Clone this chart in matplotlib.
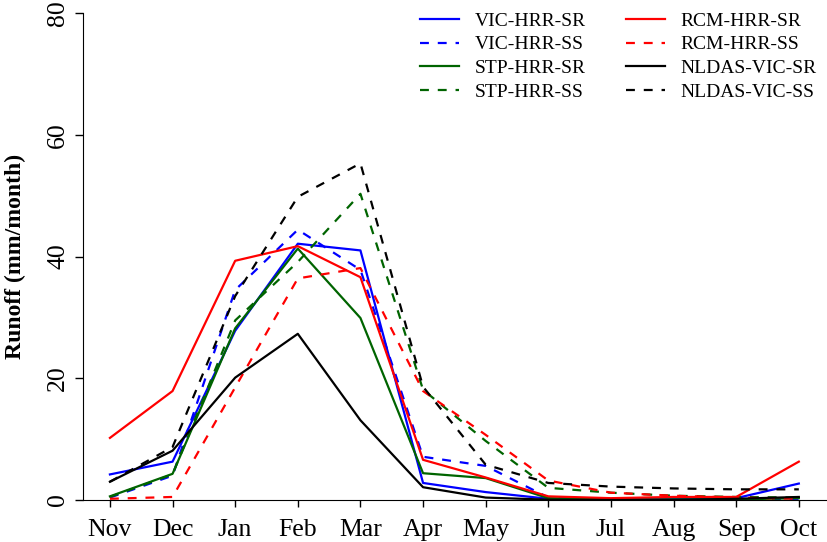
import matplotlib
matplotlib.use("Agg")
from matplotlib import pyplot as plt

plt.rcParams['font.family'] = ['Liberation Serif', 'DejaVu Serif']

months = ['Nov', 'Dec', 'Jan', 'Feb', 'Mar', 'Apr', 'May', 'Jun', 'Jul', 'Aug', 'Sep', 'Oct']

# Monthly runoff (mm/month)
vic_sr = [4.2, 6.3, 27.8, 42.1, 41.0, 2.8, 1.3, 0.2, 0.1, 0.2, 0.3, 2.7]
vic_ss = [0.4, 4.0, 34.5, 44.4, 37.8, 7.1, 5.6, 0.4, 0.2, 0.1, 0.1, 0.2]
stp_sr = [0.6, 4.3, 28.2, 41.3, 29.9, 4.4, 3.6, 0.3, 0.1, 0.1, 0.1, 0.3]
stp_ss = [0.5, 4.2, 29.5, 39.1, 50.3, 18.1, 9.7, 2.0, 1.2, 0.7, 0.5, 0.4]
rcm_sr = [10.2, 17.9, 39.3, 41.7, 36.6, 6.6, 3.7, 0.6, 0.3, 0.5, 0.5, 6.3]
rcm_ss = [0.2, 0.5, 18.5, 36.4, 38.1, 17.9, 10.7, 3.2, 1.2, 0.7, 0.4, 0.2]
nldas_sr = [3.0, 8.1, 20.1, 27.3, 13.1, 2.1, 0.4, 0.05, 0.0, 0.0, 0.2, 0.5]
nldas_ss = [3.0, 8.7, 33.5, 49.8, 55.3, 18.6, 5.8, 2.8, 2.2, 1.9, 1.75, 1.75]

fig = plt.figure(figsize=(8.27, 5.42), dpi=100)
ax = fig.add_axes([83/827, 42/542, 744/827, 487/542])

x = list(range(len(months)))
dash = (0, (4, 4))
lw = 1.6

# column-major order so the legend reads like the reference
ax.plot(x, vic_sr, color='#0000FF', lw=lw, label='VIC-HRR-SR')
ax.plot(x, vic_ss, color='#0000FF', lw=lw, ls=dash, label='VIC-HRR-SS')
ax.plot(x, stp_sr, color='#006400', lw=lw, label='STP-HRR-SR')
ax.plot(x, stp_ss, color='#006400', lw=lw, ls=dash, label='STP-HRR-SS')
ax.plot(x, rcm_sr, color='#FF0000', lw=lw, label='RCM-HRR-SR')
ax.plot(x, rcm_ss, color='#FF0000', lw=lw, ls=dash, label='RCM-HRR-SS')
ax.plot(x, nldas_sr, color='black', lw=lw, label='NLDAS-VIC-SR')
ax.plot(x, nldas_ss, color='black', lw=lw, ls=dash, label='NLDAS-VIC-SS')

ax.set_xlim(-0.43, 11.45)
ax.set_ylim(0, 80)
ax.set_xticks(x)
ax.set_xticklabels(months)
ax.set_yticks([0, 20, 40, 60, 80])
ax.tick_params(axis='x', labelsize=18.5, length=5, width=1, pad=9)
ax.tick_params(axis='y', labelsize=18.5, length=6, width=1, pad=4)
for lab in ax.get_yticklabels():
    lab.set_rotation(90)
    lab.set_va('center')

ax.spines['top'].set_visible(False)
ax.spines['right'].set_visible(False)
ax.set_ylabel('Runoff (mm/month)', fontsize=17, fontweight='bold', labelpad=15)

leg = ax.legend(ncol=2, frameon=False, fontsize=14, loc='upper left',
                bbox_to_anchor=(420/827, 1 - 12/542), bbox_transform=fig.transFigure,
                borderaxespad=0, borderpad=0, handlelength=2.0, handletextpad=0.8,
                columnspacing=2.1, labelspacing=0.32)

fig.savefig('out.png', dpi=100)
